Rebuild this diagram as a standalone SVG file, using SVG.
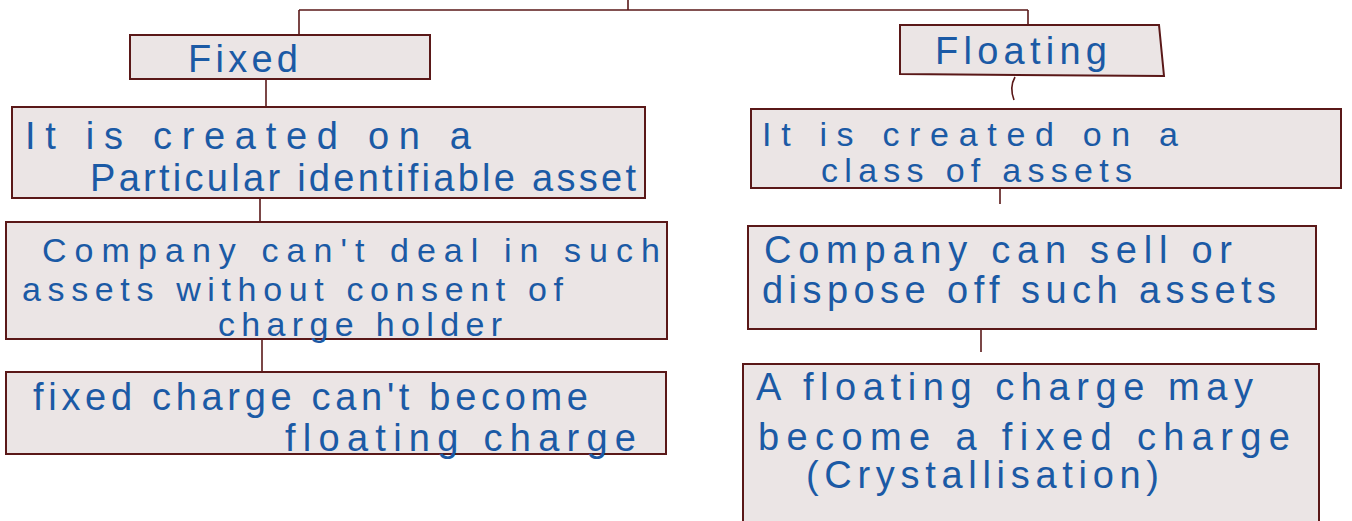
<svg xmlns="http://www.w3.org/2000/svg" width="1352" height="521" viewBox="0 0 1352 521">
<style>
.box{fill:#ebe5e5;stroke:#5a1818;stroke-width:2}
.con{fill:none;stroke:#5a1818;stroke-width:1.6}
.t{font-family:"Liberation Sans","DejaVu Sans",sans-serif;font-size:38px;fill:#1b5aa5}
.s{font-size:34px}
</style>
<rect width="1352" height="521" fill="#ffffff"/>
<g id="connectors">
<path class="con" d="M628 0V10M299 10H1028M299 10V35M1028 10V25"/>
<path class="con" d="M266 79V107"/>
<path class="con" d="M260 198V221"/>
<path class="con" d="M262 340V372"/>
<path class="con" d="M1015 77C1011 84 1011 92 1014 100"/>
<path class="con" d="M1000 188V204"/>
<path class="con" d="M981 329V352"/>
</g>
<g id="fixed">
<rect class="box" x="130" y="35" width="300" height="44"/>
<text class="t" x="188" y="72" textLength="110" lengthAdjust="spacing">Fixed</text>
</g>
<g id="floating">
<polygon class="box" points="900,25 1159,25 1164,76 900,74"/>
<text class="t" x="935" y="64" textLength="172" lengthAdjust="spacing">Floating</text>
</g>
<g id="fixed-1">
<rect class="box" x="12" y="107" width="633" height="91"/>
<text class="t" x="25" y="149" textLength="446" lengthAdjust="spacing">It is created on a</text>
<text class="t" x="90" y="191" textLength="546" lengthAdjust="spacing">Particular identifiable asset</text>
</g>
<g id="fixed-2">
<rect class="box" x="6" y="222" width="661" height="117"/>
<text class="t s" x="42" y="262" textLength="618" lengthAdjust="spacing">Company can't deal in such</text>
<text class="t s" x="22" y="301" textLength="541" lengthAdjust="spacing">assets without consent of</text>
<text class="t s" x="218" y="336" textLength="284" lengthAdjust="spacing">charge holder</text>
</g>
<g id="fixed-3">
<rect class="box" x="6" y="372" width="660" height="82"/>
<text class="t" x="33" y="410" textLength="555" lengthAdjust="spacing">fixed charge can't become</text>
<text class="t" x="285" y="451" textLength="351" lengthAdjust="spacing">floating charge</text>
</g>
<g id="floating-1">
<rect class="box" x="751" y="109" width="590" height="79"/>
<text class="t s" x="762" y="146" textLength="416" lengthAdjust="spacing">It is created on a</text>
<text class="t s" x="821" y="182" textLength="311" lengthAdjust="spacing">class of assets</text>
</g>
<g id="floating-2">
<rect class="box" x="748" y="226" width="568" height="103"/>
<text class="t" x="764" y="263" textLength="468" lengthAdjust="spacing">Company can sell or</text>
<text class="t" x="762" y="303" textLength="514" lengthAdjust="spacing">dispose off such assets</text>
</g>
<g id="floating-3">
<rect class="box" x="743" y="364" width="576" height="170"/>
<text class="t" x="756" y="400" textLength="497" lengthAdjust="spacing">A floating charge may</text>
<text class="t" x="758" y="450" textLength="532" lengthAdjust="spacing">become a fixed charge</text>
<text class="t" x="806" y="488" textLength="353" lengthAdjust="spacing">(Crystallisation)</text>
</g>
</svg>
